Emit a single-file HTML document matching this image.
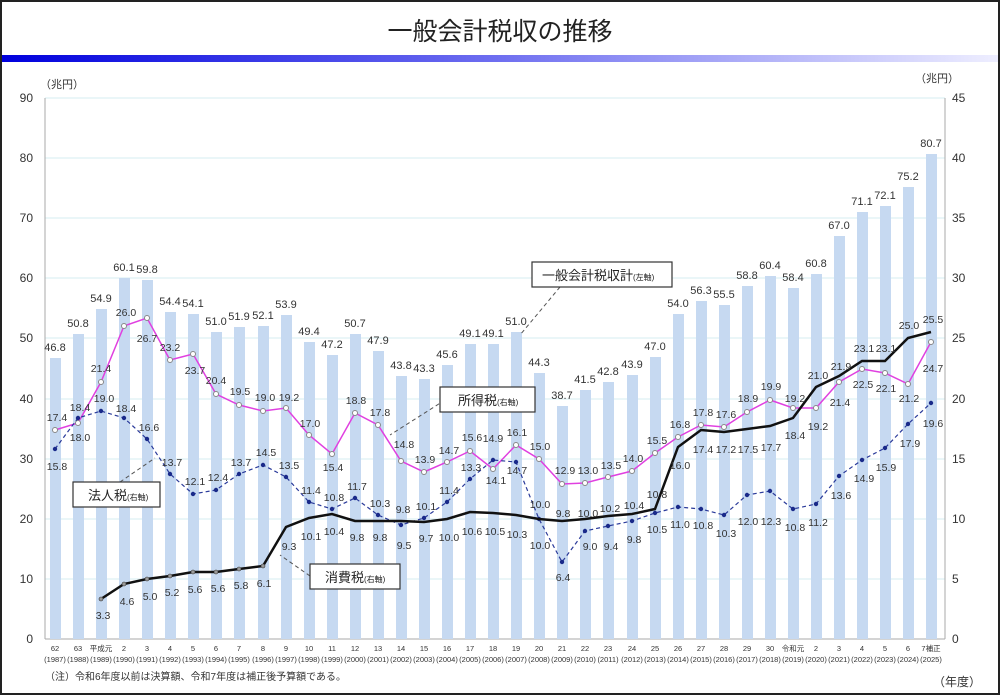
<!DOCTYPE html>
<html><head><meta charset="utf-8"><style>
html,body{margin:0;padding:0;background:#fff}
svg{display:block}
text{font-family:"Liberation Sans","Noto Sans CJK JP",sans-serif}
</style></head><body>
<svg width="1000" height="695" viewBox="0 0 1000 695" xmlns="http://www.w3.org/2000/svg">
<defs>
<linearGradient id="g" x1="0" x2="1" y1="0" y2="0"><stop offset="0" stop-color="#0000dd"/><stop offset="0.5" stop-color="#6f6ff0"/><stop offset="1" stop-color="#eeeeff"/></linearGradient>
</defs>
<rect x="1" y="1" width="998" height="693" fill="#fff" stroke="#222" stroke-width="2"/>
<text x="500" y="40" font-size="25" text-anchor="middle" fill="#222">一般会計税収の推移</text>
<rect x="2" y="55" width="996" height="7" fill="url(#g)"/>
<text x="40" y="88" font-size="11" fill="#333">（兆円）</text>
<text x="915" y="82" font-size="11" fill="#333">（兆円）</text>
<g stroke="#d6eef2" stroke-width="1">
<line x1="45" y1="98" x2="945" y2="98"/><line x1="45" y1="158" x2="945" y2="158"/><line x1="45" y1="218" x2="945" y2="218"/><line x1="45" y1="278" x2="945" y2="278"/><line x1="45" y1="338" x2="945" y2="338"/><line x1="45" y1="399" x2="945" y2="399"/><line x1="45" y1="459" x2="945" y2="459"/><line x1="45" y1="519" x2="945" y2="519"/><line x1="45" y1="579" x2="945" y2="579"/>
</g>
<line x1="45" y1="98" x2="45" y2="639" stroke="#aaa"/><line x1="945" y1="98" x2="945" y2="639" stroke="#aaa"/>
<line x1="45" y1="639" x2="945" y2="639" stroke="#aaa"/>
<g font-size="12" fill="#333" text-anchor="end">
<text x="33" y="102">90</text><text x="33" y="162">80</text><text x="33" y="222">70</text><text x="33" y="282">60</text><text x="33" y="342">50</text><text x="33" y="403">40</text><text x="33" y="463">30</text><text x="33" y="523">20</text><text x="33" y="583">10</text><text x="33" y="643">0</text>
</g>
<g font-size="12" fill="#333" text-anchor="start">
<text x="952" y="102">45</text><text x="952" y="162">40</text><text x="952" y="222">35</text><text x="952" y="282">30</text><text x="952" y="342">25</text><text x="952" y="403">20</text><text x="952" y="463">15</text><text x="952" y="523">10</text><text x="952" y="583">5</text><text x="952" y="643">0</text>
</g>
<g fill="#c6d9f1">
<rect x="50" y="358" width="11" height="281"/><rect x="73" y="334" width="11" height="305"/><rect x="96" y="309" width="11" height="330"/><rect x="119" y="278" width="11" height="361"/><rect x="142" y="280" width="11" height="359"/><rect x="165" y="312" width="11" height="327"/><rect x="188" y="314" width="11" height="325"/><rect x="211" y="332" width="11" height="307"/><rect x="234" y="327" width="11" height="312"/><rect x="258" y="326" width="11" height="313"/><rect x="281" y="315" width="11" height="324"/><rect x="304" y="342" width="11" height="297"/><rect x="327" y="355" width="11" height="284"/><rect x="350" y="334" width="11" height="305"/><rect x="373" y="351" width="11" height="288"/><rect x="396" y="376" width="11" height="263"/><rect x="419" y="379" width="11" height="260"/><rect x="442" y="365" width="11" height="274"/><rect x="465" y="344" width="11" height="295"/><rect x="488" y="344" width="11" height="295"/><rect x="511" y="332" width="11" height="307"/><rect x="534" y="373" width="11" height="266"/><rect x="557" y="406" width="11" height="233"/><rect x="580" y="390" width="11" height="249"/><rect x="603" y="382" width="11" height="257"/><rect x="627" y="375" width="11" height="264"/><rect x="650" y="357" width="11" height="282"/><rect x="673" y="314" width="11" height="325"/><rect x="696" y="301" width="11" height="338"/><rect x="719" y="305" width="11" height="334"/><rect x="742" y="286" width="11" height="353"/><rect x="765" y="276" width="11" height="363"/><rect x="788" y="288" width="11" height="351"/><rect x="811" y="274" width="11" height="365"/><rect x="834" y="236" width="11" height="403"/><rect x="857" y="212" width="11" height="427"/><rect x="880" y="206" width="11" height="433"/><rect x="903" y="187" width="11" height="452"/><rect x="926" y="154" width="11" height="485"/>
</g>
<g font-size="11" fill="#333" text-anchor="middle">
<text x="55" y="351">46.8</text><text x="78" y="327">50.8</text><text x="101" y="302">54.9</text><text x="124" y="271">60.1</text><text x="147" y="273">59.8</text><text x="170" y="305">54.4</text><text x="193" y="307">54.1</text><text x="216" y="325">51.0</text><text x="239" y="320">51.9</text><text x="263" y="319">52.1</text><text x="286" y="308">53.9</text><text x="309" y="335">49.4</text><text x="332" y="348">47.2</text><text x="355" y="327">50.7</text><text x="378" y="344">47.9</text><text x="401" y="369">43.8</text><text x="424" y="372">43.3</text><text x="447" y="358">45.6</text><text x="470" y="337">49.1</text><text x="493" y="337">49.1</text><text x="516" y="325">51.0</text><text x="539" y="366">44.3</text><text x="562" y="399">38.7</text><text x="585" y="383">41.5</text><text x="608" y="375">42.8</text><text x="632" y="368">43.9</text><text x="655" y="350">47.0</text><text x="678" y="307">54.0</text><text x="701" y="294">56.3</text><text x="724" y="298">55.5</text><text x="747" y="279">58.8</text><text x="770" y="269">60.4</text><text x="793" y="281">58.4</text><text x="816" y="267">60.8</text><text x="839" y="229">67.0</text><text x="862" y="205">71.1</text><text x="885" y="199">72.1</text><text x="908" y="180">75.2</text><text x="931" y="147">80.7</text>
</g>
<!-- income -->
<polyline fill="none" stroke="#e040e0" stroke-width="1.5" points="55,430 78,423 101,382 124,326 147,318 170,360 193,354 216,394 239,405 263,411 286,408 309,435 332,454 355,413 378,425 401,461 424,472 447,462 470,451 493,469 516,445 539,459 562,484 585,483 608,477 632,471 655,453 678,437 701,425 724,427 747,412 770,400 793,408 816,408 839,382 862,369 885,373 908,384 931,342"/>
<g fill="#fff" stroke="#888" stroke-width="1">
<circle cx="55" cy="430" r="2.5"/><circle cx="78" cy="423" r="2.5"/><circle cx="101" cy="382" r="2.5"/><circle cx="124" cy="326" r="2.5"/><circle cx="147" cy="318" r="2.5"/><circle cx="170" cy="360" r="2.5"/><circle cx="193" cy="354" r="2.5"/><circle cx="216" cy="394" r="2.5"/><circle cx="239" cy="405" r="2.5"/><circle cx="263" cy="411" r="2.5"/><circle cx="286" cy="408" r="2.5"/><circle cx="309" cy="435" r="2.5"/><circle cx="332" cy="454" r="2.5"/><circle cx="355" cy="413" r="2.5"/><circle cx="378" cy="425" r="2.5"/><circle cx="401" cy="461" r="2.5"/><circle cx="424" cy="472" r="2.5"/><circle cx="447" cy="462" r="2.5"/><circle cx="470" cy="451" r="2.5"/><circle cx="493" cy="469" r="2.5"/><circle cx="516" cy="445" r="2.5"/><circle cx="539" cy="459" r="2.5"/><circle cx="562" cy="484" r="2.5"/><circle cx="585" cy="483" r="2.5"/><circle cx="608" cy="477" r="2.5"/><circle cx="632" cy="471" r="2.5"/><circle cx="655" cy="453" r="2.5"/><circle cx="678" cy="437" r="2.5"/><circle cx="701" cy="425" r="2.5"/><circle cx="724" cy="427" r="2.5"/><circle cx="747" cy="412" r="2.5"/><circle cx="770" cy="400" r="2.5"/><circle cx="793" cy="408" r="2.5"/><circle cx="816" cy="408" r="2.5"/><circle cx="839" cy="382" r="2.5"/><circle cx="862" cy="369" r="2.5"/><circle cx="885" cy="373" r="2.5"/><circle cx="908" cy="384" r="2.5"/><circle cx="931" cy="342" r="2.5"/>
</g>
<!-- corporate -->
<polyline fill="none" stroke="#2a3a9a" stroke-width="1.2" stroke-dasharray="4,3" points="55,449 78,418 101,411 124,418 147,439 170,474 193,494 216,490 239,474 263,465 286,477 309,502 332,509 355,498 378,515 401,525 424,518 447,502 470,479 493,460 516,462 539,519 562,562 585,531 608,526 632,521 655,513 678,507 701,509 724,515 747,495 770,491 793,509 816,504 839,476 862,460 885,448 908,424 931,403"/>
<g fill="#1a2a8a">
<circle cx="55" cy="449" r="2.2"/><circle cx="78" cy="418" r="2.2"/><circle cx="101" cy="411" r="2.2"/><circle cx="124" cy="418" r="2.2"/><circle cx="147" cy="439" r="2.2"/><circle cx="170" cy="474" r="2.2"/><circle cx="193" cy="494" r="2.2"/><circle cx="216" cy="490" r="2.2"/><circle cx="239" cy="474" r="2.2"/><circle cx="263" cy="465" r="2.2"/><circle cx="286" cy="477" r="2.2"/><circle cx="309" cy="502" r="2.2"/><circle cx="332" cy="509" r="2.2"/><circle cx="355" cy="498" r="2.2"/><circle cx="378" cy="515" r="2.2"/><circle cx="401" cy="525" r="2.2"/><circle cx="424" cy="518" r="2.2"/><circle cx="447" cy="502" r="2.2"/><circle cx="470" cy="479" r="2.2"/><circle cx="493" cy="460" r="2.2"/><circle cx="516" cy="462" r="2.2"/><circle cx="539" cy="519" r="2.2"/><circle cx="562" cy="562" r="2.2"/><circle cx="585" cy="531" r="2.2"/><circle cx="608" cy="526" r="2.2"/><circle cx="632" cy="521" r="2.2"/><circle cx="655" cy="513" r="2.2"/><circle cx="678" cy="507" r="2.2"/><circle cx="701" cy="509" r="2.2"/><circle cx="724" cy="515" r="2.2"/><circle cx="747" cy="495" r="2.2"/><circle cx="770" cy="491" r="2.2"/><circle cx="793" cy="509" r="2.2"/><circle cx="816" cy="504" r="2.2"/><circle cx="839" cy="476" r="2.2"/><circle cx="862" cy="460" r="2.2"/><circle cx="885" cy="448" r="2.2"/><circle cx="908" cy="424" r="2.2"/><circle cx="931" cy="403" r="2.2"/>
</g>
<!-- consumption -->
<polyline fill="none" stroke="#111" stroke-width="2.5" points="101,599 124,584 147,579 170,576 193,572 216,572 239,569 263,566 286,527 309,518 332,514 355,521 378,521 401,521 424,522 447,519 470,512 493,513 516,515 539,519 562,521 585,519 608,516 632,514 655,509 678,447 701,430 724,432 747,429 770,426 793,418 816,387 839,376 862,361 885,361 908,338 931,332"/>
<g fill="#999" stroke="#333" stroke-width="0.6">
<circle cx="101" cy="599" r="2"/><circle cx="124" cy="584" r="2"/><circle cx="147" cy="579" r="2"/><circle cx="170" cy="576" r="2"/><circle cx="193" cy="572" r="2"/><circle cx="216" cy="572" r="2"/><circle cx="239" cy="569" r="2"/><circle cx="263" cy="566" r="2"/>
</g>
<g font-size="10.5" fill="#333" text-anchor="middle">
<!-- income labels -->
<text x="57" y="421">17.4</text><text x="80" y="441">18.0</text><text x="101" y="372">21.4</text><text x="126" y="316">26.0</text><text x="147" y="342">26.7</text><text x="170" y="351">23.2</text><text x="195" y="374">23.7</text><text x="216" y="384">20.4</text><text x="240" y="395">19.5</text><text x="265" y="401">19.0</text><text x="289" y="401">19.2</text><text x="310" y="427">17.0</text><text x="333" y="471">15.4</text><text x="356" y="404">18.8</text><text x="380" y="416">17.8</text><text x="404" y="448">14.8</text><text x="425" y="463">13.9</text><text x="449" y="454">14.7</text><text x="472" y="441">15.6</text><text x="493" y="442">14.9</text><text x="496" y="484">14.1</text><text x="517" y="436">16.1</text><text x="540" y="450">15.0</text><text x="565" y="474">12.9</text><text x="588" y="474">13.0</text><text x="611" y="469">13.5</text><text x="633" y="462">14.0</text><text x="657" y="444">15.5</text><text x="680" y="428">16.8</text><text x="703" y="416">17.8</text><text x="726" y="418">17.6</text><text x="748" y="402">18.9</text><text x="771" y="390">19.9</text><text x="795" y="402">19.2</text><text x="818" y="430">19.2</text><text x="840" y="406">21.4</text><text x="863" y="388">22.5</text><text x="886" y="392">22.1</text><text x="909" y="402">21.2</text><text x="933" y="372">24.7</text>
<!-- corp labels -->
<text x="57" y="470">15.8</text><text x="80" y="411">18.4</text><text x="104" y="402">19.0</text><text x="126" y="412">18.4</text><text x="149" y="431">16.6</text><text x="172" y="466">13.7</text><text x="195" y="485">12.1</text><text x="218" y="481">12.4</text><text x="241" y="466">13.7</text><text x="266" y="456">14.5</text><text x="289" y="469">13.5</text><text x="311" y="494">11.4</text><text x="334" y="501">10.8</text><text x="357" y="490">11.7</text><text x="380" y="507">10.3</text><text x="403" y="513">9.8</text><text x="426" y="510">10.1</text><text x="449" y="494">11.4</text><text x="471" y="471">13.3</text><text x="517" y="474">14.7</text><text x="540" y="508">10.0</text><text x="563" y="581">6.4</text><text x="590" y="550">9.0</text><text x="611" y="550">9.4</text><text x="634" y="543">9.8</text><text x="657" y="533">10.5</text><text x="680" y="528">11.0</text><text x="703" y="529">10.8</text><text x="726" y="537">10.3</text><text x="748" y="525">12.0</text><text x="771" y="525">12.3</text><text x="795" y="531">10.8</text><text x="818" y="526">11.2</text><text x="841" y="499">13.6</text><text x="864" y="482">14.9</text><text x="886" y="471">15.9</text><text x="910" y="447">17.9</text><text x="933" y="427">19.6</text>
<!-- consumption labels -->
<text x="103" y="619">3.3</text><text x="127" y="605">4.6</text><text x="150" y="600">5.0</text><text x="172" y="596">5.2</text><text x="195" y="593">5.6</text><text x="218" y="592">5.6</text><text x="241" y="589">5.8</text><text x="264" y="587">6.1</text><text x="289" y="550">9.3</text><text x="311" y="540">10.1</text><text x="334" y="535">10.4</text><text x="357" y="541">9.8</text><text x="380" y="541">9.8</text><text x="404" y="549">9.5</text><text x="426" y="542">9.7</text><text x="449" y="541">10.0</text><text x="472" y="535">10.6</text><text x="495" y="535">10.5</text><text x="517" y="538">10.3</text><text x="540" y="549">10.0</text><text x="563" y="517">9.8</text><text x="588" y="517">10.0</text><text x="610" y="512">10.2</text><text x="634" y="509">10.4</text><text x="657" y="498">10.8</text><text x="680" y="469">16.0</text><text x="703" y="453">17.4</text><text x="726" y="453">17.2</text><text x="748" y="453">17.5</text><text x="771" y="451">17.7</text><text x="795" y="439">18.4</text><text x="818" y="379">21.0</text><text x="841" y="370">21.9</text><text x="864" y="352">23.1</text><text x="886" y="352">23.1</text><text x="909" y="329">25.0</text><text x="933" y="323">25.5</text>
</g>
<!-- callouts -->
<g stroke="#555" stroke-width="1" stroke-dasharray="4,3" fill="none">
<line x1="560" y1="287" x2="520" y2="335"/>
<line x1="445" y1="400" x2="390" y2="435"/>
<line x1="120" y1="482" x2="155" y2="458"/>
<line x1="310" y1="576" x2="280" y2="555"/>
</g>
<g fill="#fff" stroke="#333" stroke-width="1.2">
<rect x="532" y="262" width="140" height="25"/>
<rect x="440" y="387" width="95" height="25"/>
<rect x="73" y="482" width="87" height="25"/>
<rect x="310" y="564" width="90" height="25"/>
</g>
<g fill="#222" font-size="13">
<text x="542" y="280">一般会計税収計<tspan font-size="8">(左軸)</tspan></text>
<text x="458" y="405">所得税<tspan font-size="8">(右軸)</tspan></text>
<text x="88" y="500">法人税<tspan font-size="8">(右軸)</tspan></text>
<text x="325" y="582">消費税<tspan font-size="8">(右軸)</tspan></text>
</g>
<g font-size="7.5" fill="#333" text-anchor="middle">
<text x="55" y="651">62</text><text x="78" y="651">63</text><text x="101" y="651">平成元</text><text x="124" y="651">2</text><text x="147" y="651">3</text><text x="170" y="651">4</text><text x="193" y="651">5</text><text x="216" y="651">6</text><text x="239" y="651">7</text><text x="263" y="651">8</text><text x="286" y="651">9</text><text x="309" y="651">10</text><text x="332" y="651">11</text><text x="355" y="651">12</text><text x="378" y="651">13</text><text x="401" y="651">14</text><text x="424" y="651">15</text><text x="447" y="651">16</text><text x="470" y="651">17</text><text x="493" y="651">18</text><text x="516" y="651">19</text><text x="539" y="651">20</text><text x="562" y="651">21</text><text x="585" y="651">22</text><text x="608" y="651">23</text><text x="632" y="651">24</text><text x="655" y="651">25</text><text x="678" y="651">26</text><text x="701" y="651">27</text><text x="724" y="651">28</text><text x="747" y="651">29</text><text x="770" y="651">30</text><text x="793" y="651">令和元</text><text x="816" y="651">2</text><text x="839" y="651">3</text><text x="862" y="651">4</text><text x="885" y="651">5</text><text x="908" y="651">6</text><text x="931" y="651">7補正</text>
<text x="55" y="662">(1987)</text><text x="78" y="662">(1988)</text><text x="101" y="662">(1989)</text><text x="124" y="662">(1990)</text><text x="147" y="662">(1991)</text><text x="170" y="662">(1992)</text><text x="193" y="662">(1993)</text><text x="216" y="662">(1994)</text><text x="239" y="662">(1995)</text><text x="263" y="662">(1996)</text><text x="286" y="662">(1997)</text><text x="309" y="662">(1998)</text><text x="332" y="662">(1999)</text><text x="355" y="662">(2000)</text><text x="378" y="662">(2001)</text><text x="401" y="662">(2002)</text><text x="424" y="662">(2003)</text><text x="447" y="662">(2004)</text><text x="470" y="662">(2005)</text><text x="493" y="662">(2006)</text><text x="516" y="662">(2007)</text><text x="539" y="662">(2008)</text><text x="562" y="662">(2009)</text><text x="585" y="662">(2010)</text><text x="608" y="662">(2011)</text><text x="632" y="662">(2012)</text><text x="655" y="662">(2013)</text><text x="678" y="662">(2014)</text><text x="701" y="662">(2015)</text><text x="724" y="662">(2016)</text><text x="747" y="662">(2017)</text><text x="770" y="662">(2018)</text><text x="793" y="662">(2019)</text><text x="816" y="662">(2020)</text><text x="839" y="662">(2021)</text><text x="862" y="662">(2022)</text><text x="885" y="662">(2023)</text><text x="908" y="662">(2024)</text><text x="931" y="662">(2025)</text>
</g>
<text x="45" y="680" font-size="10" fill="#333">（注）令和6年度以前は決算額、令和7年度は補正後予算額である。</text>
<text x="933" y="686" font-size="12" fill="#333">（年度）</text>
</svg>
</body></html>
